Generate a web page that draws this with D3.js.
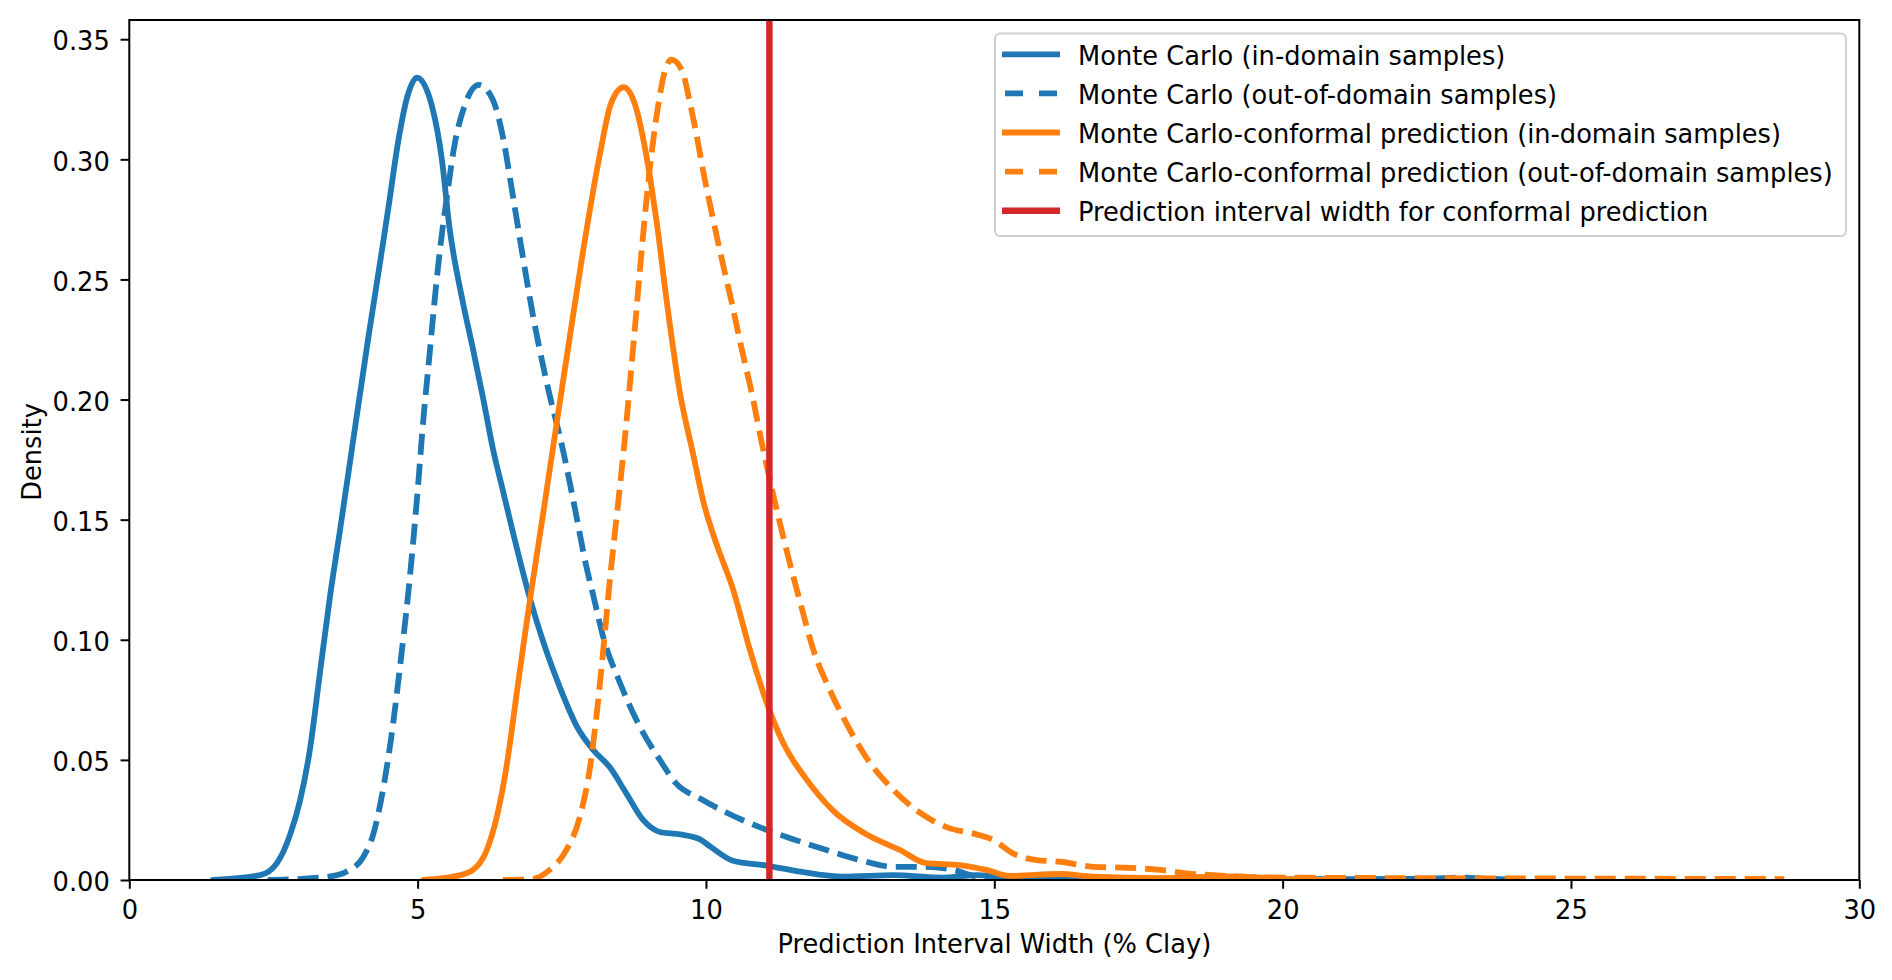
<!DOCTYPE html>
<html>
<head>
<meta charset="utf-8">
<script src="https://cdn.jsdelivr.net/npm/d3@7"></script>
<style>
  html, body { margin: 0; padding: 0; background: #fff; }
  svg { display: block; font-family: "DejaVu Sans", sans-serif; }
</style>
</head>
<body>
<svg id="chart" width="1892" height="980"></svg>
<script>
// ---------- data ----------
const xTicks = [0, 5, 10, 15, 20, 25, 30];
const yTicks = [0, 0.05, 0.10, 0.15, 0.20, 0.25, 0.30, 0.35];

const seriesLabels = [
  "Monte Carlo (in-domain samples)",
  "Monte Carlo (out-of-domain samples)",
  "Monte Carlo-conformal prediction (in-domain samples)",
  "Monte Carlo-conformal prediction (out-of-domain samples)",
  "Prediction interval width for conformal prediction"
];

const mcInX = [1.45, 2.27, 2.56, 2.79, 2.96, 3.13, 3.31, 3.48, 3.65, 3.87, 4.14, 4.38, 4.50, 4.66, 4.82, 4.99, 5.25, 5.42, 5.55, 5.78, 5.96, 6.14, 6.31, 6.48, 6.66, 6.95, 7.18, 7.47, 7.76, 8.05, 8.33, 8.62, 8.91, 9.20, 9.55, 9.89, 10.07, 10.47, 11.05, 11.63, 12.38, 13.25, 14.1, 14.7, 15.5, 17.0];
const mcInY = [0, 0.002, 0.007, 0.019, 0.033, 0.054, 0.087, 0.118, 0.145, 0.181, 0.225, 0.262, 0.281, 0.307, 0.326, 0.334, 0.322, 0.300, 0.272, 0.241, 0.221, 0.200, 0.179, 0.162, 0.144, 0.117, 0.099, 0.080, 0.064, 0.054, 0.047, 0.036, 0.025, 0.020, 0.019, 0.017, 0.014, 0.008, 0.006, 0.0035, 0.0014, 0.002, 0.001, 0.002, 0.0005, 0];

const mcOutX = [2.4, 3.0, 3.54, 3.77, 4.06, 4.23, 4.41, 4.58, 4.69, 4.84, 4.92, 5.0, 5.10, 5.20, 5.31, 5.40, 5.50, 5.64, 5.81, 6.06, 6.30, 6.49, 6.61, 6.80, 7.0, 7.24, 7.52, 7.70, 7.93, 8.05, 8.22, 8.51, 8.85, 9.2, 9.49, 9.89, 10.36, 10.93, 11.51, 12.09, 12.67, 13.25, 13.82, 14.29, 14.69, 15.3, 17, 20, 22.5, 23.1, 23.6, 24.1];
const mcOutY = [0, 0.0005, 0.0017, 0.0035, 0.0097, 0.019, 0.039, 0.066, 0.088, 0.120, 0.140, 0.162, 0.192, 0.217, 0.245, 0.265, 0.283, 0.306, 0.322, 0.331, 0.325, 0.308, 0.291, 0.263, 0.235, 0.207, 0.179, 0.158, 0.130, 0.118, 0.101, 0.082, 0.064, 0.050, 0.040, 0.034, 0.028, 0.022, 0.017, 0.0125, 0.0083, 0.0055, 0.0055, 0.0042, 0.0015, 0.0005, 0.0003, 0.0003, 0.0005, 0.001, 0.0005, 0];

const mccpInX = [5.1, 5.68, 5.96, 6.2, 6.37, 6.54, 6.72, 6.83, 6.95, 7.18, 7.41, 7.6, 7.87, 8.16, 8.35, 8.57, 8.78, 8.97, 9.15, 9.33, 9.54, 9.78, 9.95, 10.18, 10.47, 10.76, 11.05, 11.34, 11.74, 12.2, 12.78, 13.36, 13.82, 14.4, 14.86, 15.27, 16.14, 16.71, 17.87, 19.06, 20.0, 21.0];
const mccpInY = [0, 0.0017, 0.0042, 0.0125, 0.026, 0.047, 0.078, 0.097, 0.117, 0.153, 0.190, 0.220, 0.262, 0.302, 0.323, 0.330, 0.322, 0.301, 0.273, 0.239, 0.204, 0.177, 0.158, 0.140, 0.121, 0.096, 0.074, 0.057, 0.042, 0.029, 0.019, 0.0125, 0.007, 0.0062, 0.0042, 0.0017, 0.0025, 0.0014, 0.0008, 0.0015, 0.0005, 0];

const mccpOutX = [6.48, 7.0, 7.29, 7.58, 7.81, 7.99, 8.10, 8.22, 8.33, 8.45, 8.57, 8.75, 8.90, 9.03, 9.15, 9.28, 9.40, 9.585, 9.71, 9.83, 9.96, 10.08, 10.26, 10.45, 10.62, 10.81, 10.95, 11.17, 11.4, 11.63, 11.86, 12.15, 12.44, 12.78, 13.25, 13.71, 14.17, 14.69, 14.98, 15.33, 15.73, 16.14, 16.71, 17.29, 17.87, 18.34, 19.0, 20.1, 22, 25, 28.7];
const mccpOutY = [0, 0.0005, 0.0042, 0.0125, 0.026, 0.047, 0.068, 0.096, 0.124, 0.151, 0.178, 0.225, 0.266, 0.297, 0.319, 0.336, 0.3415, 0.337, 0.325, 0.311, 0.294, 0.280, 0.260, 0.240, 0.221, 0.201, 0.184, 0.160, 0.137, 0.116, 0.096, 0.079, 0.065, 0.051, 0.0375, 0.028, 0.022, 0.019, 0.0167, 0.011, 0.0083, 0.0076, 0.0055, 0.0051, 0.0042, 0.0028, 0.0017, 0.001, 0.0008, 0.0006, 0.0004];

const conformalWidth = 11.1;

(function () {
// ---------- layout ----------
const pL = 129.3, pR = 1859.3, pT = 20, pB = 880;
const FS = 25.7;
const blue = "#1f77b4", orange = "#ff7f0e", red = "#d62728";
const LW = 5.8;
const DASH = "21,9";

const svg = d3.select("#chart");
const x = d3.scaleLinear().domain([0, 30]).range([pL, pR]);
const y = d3.scaleLinear().domain([0, 0.358]).range([pB, pT]);

const series = [
  { xs: mcInX, ys: mcInY, color: blue, dash: null },
  { xs: mcOutX, ys: mcOutY, color: blue, dash: DASH },
  { xs: mccpInX, ys: mccpInY, color: orange, dash: null },
  { xs: mccpOutX, ys: mccpOutY, color: orange, dash: DASH }
];

const line = d3.line().x(d => x(d[0])).y(d => y(d[1])).curve(d3.curveMonotoneX);

svg.append("defs").append("clipPath").attr("id", "plotclip")
  .append("rect").attr("x", pL).attr("y", pT).attr("width", pR - pL).attr("height", pB - pT);

const plot = svg.append("g").attr("clip-path", "url(#plotclip)");
series.forEach(s => {
  const pts = s.xs.map((v, i) => [v, s.ys[i]]);
  plot.append("path")
    .attr("d", line(pts))
    .attr("fill", "none")
    .attr("stroke", s.color)
    .attr("stroke-width", LW)
    .attr("stroke-linejoin", "round")
    .attr("stroke-linecap", s.dash ? "butt" : "round")
    .attr("stroke-dasharray", s.dash);
});

plot.append("line")
  .attr("x1", x(conformalWidth)).attr("x2", x(conformalWidth))
  .attr("y1", y.range()[1]).attr("y2", y.range()[0])
  .attr("stroke", red).attr("stroke-width", 6.5);

// ---------- axes ----------
const xAxis = d3.axisBottom(x).tickValues(xTicks).tickSize(8.75).tickPadding(10).tickFormat(d3.format("d"));
const gx = svg.append("g").attr("transform", `translate(0,${pB})`).call(xAxis);
gx.select(".domain").remove();
gx.selectAll(".tick line").attr("stroke", "#000").attr("stroke-width", 2);
gx.selectAll(".tick text").attr("font-size", FS).attr("fill", "#000")
  .attr("font-family", "DejaVu Sans").attr("dy", null).attr("y", 38.5);

const yAxis = d3.axisLeft(y).tickValues(yTicks).tickSize(8.75).tickPadding(10).tickFormat(d3.format(".2f"));
const gy = svg.append("g").attr("transform", `translate(${pL},0)`).call(yAxis);
gy.select(".domain").remove();
gy.selectAll(".tick line").attr("stroke", "#000").attr("stroke-width", 2);
gy.selectAll(".tick text").attr("font-size", FS).attr("fill", "#000")
  .attr("font-family", "DejaVu Sans").attr("dy", null).attr("y", 10.7).attr("x", -19.5);

// frame
svg.append("rect").attr("x", pL).attr("y", pT).attr("width", pR - pL).attr("height", pB - pT)
  .attr("fill", "none").attr("stroke", "#000").attr("stroke-width", 2);

// axis labels
svg.append("text").attr("x", (pL + pR) / 2).attr("y", 953).attr("text-anchor", "middle")
  .attr("font-size", FS).attr("fill", "#000").text("Prediction Interval Width (% Clay)");
svg.append("text").attr("transform", "translate(40.5,452) rotate(-90)").attr("text-anchor", "middle")
  .attr("font-size", FS).attr("fill", "#000").text("Density");

// ---------- legend ----------
const legendStyles = [
  { color: blue, dash: null },
  { color: blue, dash: DASH },
  { color: orange, dash: null },
  { color: orange, dash: DASH },
  { color: red, dash: null, w: 6.5 }
];
const lg = svg.append("g");
lg.append("rect").attr("x", 995).attr("y", 33.5).attr("width", 851).attr("height", 202.5)
  .attr("rx", 5).attr("fill", "#fff").attr("fill-opacity", 0.8)
  .attr("stroke", "#d0d0d0").attr("stroke-width", 2);
seriesLabels.forEach((lab, i) => {
  const cy = 54.3 + i * 39.1;
  const st = legendStyles[i];
  lg.append("line").attr("x1", 1002).attr("x2", 1060).attr("y1", cy).attr("y2", cy)
    .attr("stroke", st.color).attr("stroke-width", st.w || LW)
    .attr("stroke-dasharray", st.dash ? "18,16" : null)
    .attr("stroke-dashoffset", st.dash ? -3 : null);
  lg.append("text").attr("x", 1078).attr("y", cy + 10.5).attr("font-size", FS).attr("fill", "#000").text(lab);
});
})();
</script>
</body>
</html>
